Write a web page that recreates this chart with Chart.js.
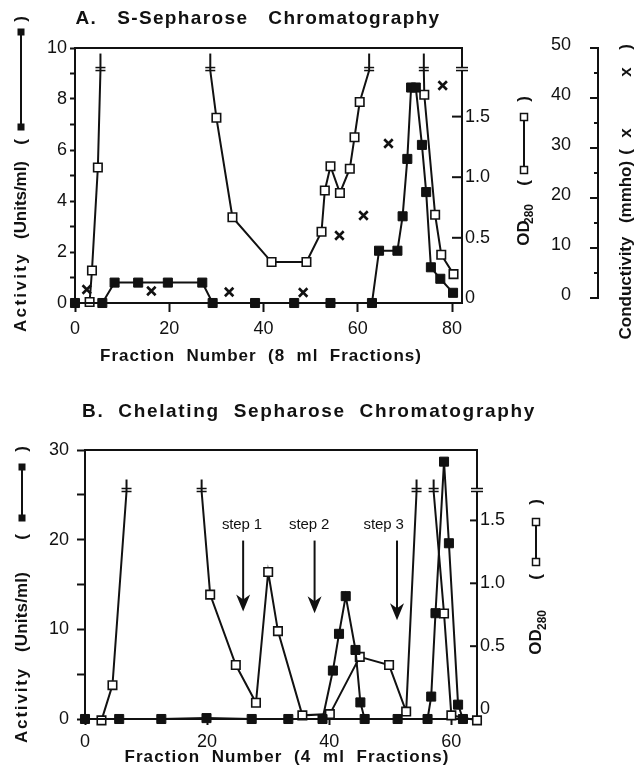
<!DOCTYPE html>
<html>
<head>
<meta charset="utf-8">
<title>S-Sepharose / Chelating Sepharose chromatography</title>
<script src="https://cdn.jsdelivr.net/npm/chart.js@4.4.1/dist/chart.umd.min.js"></script>
<style>
  body { margin: 0; background: #fff; }
  #wrap { position: relative; width: 640px; height: 767px; }
  canvas { position: absolute; left: 0; }
</style>
</head>
<body>
<div id="wrap">
  <canvas id="chartA" width="640" height="380" style="top:0"></canvas>
  <canvas id="chartB" width="640" height="387" style="top:380px"></canvas>
</div>
<script>
// ---------- Panel A: S-Sepharose (8 ml fractions) ----------
const aActFrac = [0, 5.8, 8.4, 13.4, 19.7, 27.0, 29.2, 38.2, 46.5, 54.2, 63.0, 64.5, 68.4, 69.5, 70.5, 71.3, 72.3, 73.6, 74.5, 75.5, 77.5, 80.2];
const aAct     = [0, 0, 0.8, 0.8, 0.8, 0.8, 0, 0, 0, 0, 0, 2.05, 2.05, 3.4, 5.65, 8.45, 8.45, 6.2, 4.35, 1.4, 0.95, 0.4];

// OD280, null = gap where the trace runs off scale
const aOdFrac = [3.1, 3.6, 4.85, 5.4, null, 28.7, 30.0, 33.4, 41.7, 49.1, 52.3, 53.0, 54.2, 56.2, 58.3, 59.3, 60.4, 62.4, null, 74.0, 74.1, 76.4, 77.7, 80.3];
const aOd     = [-0.03, 0.23, 1.08, 1.88, null, 1.88, 1.49, 0.67, 0.30, 0.30, 0.55, 0.89, 1.09, 0.87, 1.07, 1.33, 1.62, 1.88, null, 1.88, 1.68, 0.69, 0.36, 0.20];
const aOdBreak = 1.88;

const aCondFrac = [2.5, 16.2, 32.7, 48.4, 56.1, 61.2, 66.5, 78.0];
const aCond     = [1.7, 1.4, 1.2, 1.1, 12.5, 16.5, 30.9, 42.5];

const aFracTicks = [0, 20, 40, 60, 80];
const aActTicks  = [0, 1, 2, 3, 4, 5, 6, 7, 8, 9, 10];
const aOdTicks   = [0, 0.5, 1, 1.5];
const aCondTicks = [0, 10, 20, 30, 40, 50];

// ---------- Panel B: Chelating Sepharose (4 ml fractions) ----------
const bActFrac = [0, 5.6, 12.5, 19.9, 27.3, 33.3, 38.9, 40.6, 41.6, 42.7, 44.3, 45.1, 45.8, 51.2, 56.1, 56.7, 57.4, 58.8, 59.6, 61.1, 61.9];
const bAct     = [0, 0, 0, 0.1, 0, 0, 0, 5.4, 9.5, 13.7, 7.7, 1.85, 0, 0, 0, 2.5, 11.8, 28.7, 19.6, 1.6, 0];

const bOdFrac = [2.7, 4.5, 6.8, null, 19.1, 20.5, 24.7, 28.0, 30.0, 31.6, 35.6, 40.1, 45.0, 49.8, 52.6, 54.3, null, 57.1, 58.8, 60.0, 64.2];
const bOd     = [-0.09, 0.19, 1.73, null, 1.73, 0.91, 0.35, 0.05, 1.09, 0.62, -0.05, -0.04, 0.415, 0.35, -0.02, 1.73, null, 1.73, 0.76, -0.05, -0.09];
const bOdBreak = 1.73;

const bFracTicks = [0, 20, 40, 60];
const bActTicks  = [0, 5, 10, 15, 20, 25, 30];
const bOdTicks   = [0, 0.5, 1, 1.5];

// elution steps: label, label position, arrow position (fraction), arrow tip (units/ml)
const stepLabels = ['step 1', 'step 2', 'step 3'];
const stepTextAt = [25.7, 36.7, 48.9];
const stepArrowAt = [25.9, 37.6, 51.1];
const stepTip = [12.0, 11.8, 11.0];

// ---------- drawing helpers ----------
const INK = '#111';
const FAMILY = '"Liberation Sans", Arial, Helvetica, sans-serif';
Chart.defaults.font.family = FAMILY;
Chart.defaults.color = INK;

function pts(xs, ys) {
  return xs.map((x, i) => ({ x: x, y: ys[i] }));
}

function line(c, x1, y1, x2, y2) {
  c.beginPath();
  c.moveTo(x1, y1);
  c.lineTo(x2, y2);
  c.stroke();
}

// text centred at x,y, stretched (letter spacing) to span px, optional rotation
function spaced(c, text, x, y, font, span, rot) {
  c.save();
  c.translate(x, y);
  c.rotate(rot || 0);
  c.font = font;
  c.letterSpacing = '0px';
  if (span) {
    const w0 = c.measureText(text).width;
    c.letterSpacing = ((span - w0) / text.length).toFixed(2) + 'px';
  }
  c.textAlign = 'center';
  c.textBaseline = 'middle';
  c.fillStyle = INK;
  c.fillText(text, 0, 0);
  c.restore();
}

// vertical legend key: ( sq ---- sq ) along a rotated title
function key(c, x, yOpen, y1, y2, yClose, filled, font) {
  const up = -Math.PI / 2;
  spaced(c, '(', x, yOpen, font, 0, up);
  spaced(c, ')', x, yClose, font, 0, up);
  c.save();
  c.strokeStyle = INK;
  c.fillStyle = INK;
  c.lineWidth = 2;
  line(c, x, y1, x, y2);
  [y1, y2].forEach(y => {
    if (filled) {
      c.fillRect(x - 3.5, y - 3.5, 7, 7);
    } else {
      c.fillStyle = '#fff';
      c.fillRect(x - 3.5, y - 3.5, 7, 7);
      c.lineWidth = 1.5;
      c.strokeRect(x - 3.5, y - 3.5, 7, 7);
    }
  });
  c.restore();
}

// "OD" with subscript 280, reading upwards
function odTitle(c, x, yOD, xSub, ySub) {
  const up = -Math.PI / 2;
  spaced(c, 'OD', x, yOD, 'bold 17px ' + FAMILY, 0, up);
  spaced(c, '280', xSub, ySub, 'bold 12px ' + FAMILY, 0, up);
}

// off-scale marks on a trace: short stroke upward with "=" across it
function traceBreaks(chart, dsIndex, brk, rise) {
  const c = chart.ctx;
  const meta = chart.getDatasetMeta(dsIndex);
  const raw = chart.data.datasets[dsIndex].data;
  c.save();
  c.strokeStyle = INK;
  c.lineWidth = 2;
  meta.data.forEach((p, k) => {
    if (raw[k].y === null || raw[k].y < brk) return;
    line(c, p.x, p.y, p.x, p.y - rise);
    c.lineWidth = 1.5;
    line(c, p.x - 5, p.y, p.x + 5, p.y);
    line(c, p.x - 5, p.y - 3, p.x + 5, p.y - 3);
    c.lineWidth = 2;
  });
  c.restore();
}

function axisBreak(c, x, y) {
  c.save();
  c.fillStyle = '#fff';
  c.fillRect(x - 2, y - 2.5, 4, 2);
  c.strokeStyle = INK;
  c.lineWidth = 1.5;
  line(c, x - 6, y, x + 6, y);
  line(c, x - 6, y - 3, x + 6, y - 3);
  c.restore();
}

function inwardTicks(c, scale, right, values, len) {
  c.save();
  c.strokeStyle = INK;
  c.lineWidth = 2;
  values.forEach(v => {
    if (v <= 0) return;
    const y = scale.getPixelForValue(v);
    line(c, right - len, y, right, y);
  });
  c.restore();
}

function frameTop(c, a) {
  c.save();
  c.strokeStyle = INK;
  c.lineWidth = 2;
  line(c, a.left - 1, a.top, a.right + 1, a.top);
  c.restore();
}

const tickFont = { family: FAMILY, size: 18 };

// ---------- Panel A chart ----------
const decoA = {
  id: 'decoA',
  afterDraw(chart) {
    const c = chart.ctx, a = chart.chartArea;
    const od = chart.scales.od, cond = chart.scales.cond;
    frameTop(c, a);
    inwardTicks(c, od, a.right, aOdTicks, 10);
    axisBreak(c, a.right, od.getPixelForValue(aOdBreak));
    traceBreaks(chart, 1, aOdBreak, 17);

    // conductivity axis, standing apart on the right
    const ax = 598;
    c.save();
    c.strokeStyle = INK;
    c.lineWidth = 2;
    line(c, ax, cond.getPixelForValue(50) - 1, ax, cond.getPixelForValue(0) + 1);
    for (let v = 0; v <= 50; v += 5) {
      const y = cond.getPixelForValue(v);
      line(c, ax - (v % 10 ? 4 : 8), y, ax, y);
    }
    c.font = '18px ' + FAMILY;
    c.fillStyle = INK;
    c.textAlign = 'right';
    c.textBaseline = 'middle';
    aCondTicks.forEach(v => c.fillText(String(v), 571, cond.getPixelForValue(v) - 3));
    c.restore();

    const bold = 'bold 17px ' + FAMILY;
    const up = -Math.PI / 2;
    spaced(c, 'A.   S-Sepharose   Chromatography', 258, 19, 'bold 19px ' + FAMILY, 365);
    spaced(c, 'Fraction  Number  (8  ml  Fractions)', 261, 356, bold, 322);
    // left title
    spaced(c, 'Activity', 21, 292, bold, 80, up);
    spaced(c, '(Units/ml)', 21, 200, bold, 78, up);
    key(c, 21, 142, 127, 32, 19, true, bold);
    // OD title
    odTitle(c, 524, 233, 530, 214);
    key(c, 524, 183, 170, 117, 99, false, bold);
    // conductivity title
    spaced(c, 'Conductivity', 626, 288, bold, 103, up);
    spaced(c, '(mmho)', 626, 192, bold, 62, up);
    spaced(c, '(', 626, 152, bold, 0, up);
    spaced(c, 'x', 626, 133, bold, 0, up);
    spaced(c, 'x', 626, 72, bold, 0, up);
    spaced(c, ')', 626, 47, bold, 0, up);
  }
};

new Chart(document.getElementById('chartA'), {
  type: 'line',
  data: {
    datasets: [
      {
        label: 'Activity (Units/ml)',
        data: pts(aActFrac, aAct),
        yAxisID: 'y',
        borderColor: INK, borderWidth: 2, tension: 0, clip: false,
        pointStyle: 'rect', pointRadius: 6.4, pointBackgroundColor: INK, pointBorderColor: INK, pointBorderWidth: 1
      },
      {
        label: 'OD280',
        data: pts(aOdFrac, aOd),
        yAxisID: 'od',
        borderColor: INK, borderWidth: 2, tension: 0, clip: false, spanGaps: false,
        pointStyle: 'rect',
        pointRadius: ctx => (ctx.raw && ctx.raw.y >= aOdBreak) ? 0 : 6,
        pointBackgroundColor: '#fff', pointBorderColor: INK, pointBorderWidth: 1.6
      },
      {
        label: 'Conductivity (mmho)',
        data: pts(aCondFrac, aCond),
        yAxisID: 'cond',
        showLine: false, clip: false,
        pointStyle: 'crossRot', pointRadius: 6, borderColor: INK, pointBorderColor: INK, pointBorderWidth: 2.6
      }
    ]
  },
  options: {
    responsive: false,
    animation: false,
    events: [],
    layout: { padding: { top: 48, left: 0, right: 0, bottom: 0 } },
    plugins: { legend: { display: false }, tooltip: { enabled: false } },
    scales: {
      x: {
        type: 'linear', min: 0, max: 82.1,
        afterBuildTicks: s => { s.ticks = aFracTicks.map(v => ({ value: v })); },
        afterFit: s => { s.height = 77; },
        ticks: { font: tickFont, color: INK, padding: 6, maxRotation: 0, autoSkip: false },
        grid: { drawOnChartArea: false, tickLength: 9, tickWidth: 2, tickColor: INK },
        border: { color: INK, width: 2 }
      },
      y: {
        type: 'linear', position: 'left', min: 0, max: 10,
        afterBuildTicks: s => { s.ticks = aActTicks.map(v => ({ value: v })); },
        afterFit: s => { s.width = 75; },
        ticks: { font: tickFont, color: INK, padding: 3, callback: v => (v % 2 === 0 ? String(v) : '') },
        grid: { drawOnChartArea: false, tickLength: 5, tickWidth: 2, tickColor: INK },
        border: { color: INK, width: 2 }
      },
      od: {
        type: 'linear', position: 'right', min: -0.038, max: 2.066,
        afterBuildTicks: s => { s.ticks = aOdTicks.map(v => ({ value: v })); },
        afterFit: s => { s.width = 178; },
        ticks: { font: tickFont, color: INK, padding: 3, callback: v => (v === 0 ? '0' : v.toFixed(1)) },
        grid: { drawOnChartArea: false, drawTicks: false },
        border: { color: INK, width: 2 }
      },
      cond: {
        type: 'linear', position: 'right', display: false, min: -1, max: 50
      }
    }
  },
  plugins: [decoA]
});

// ---------- Panel B chart ----------
const decoB = {
  id: 'decoB',
  afterDraw(chart) {
    const c = chart.ctx, a = chart.chartArea;
    const xs = chart.scales.x, ys = chart.scales.y, od = chart.scales.od;
    frameTop(c, a);
    inwardTicks(c, od, a.right, bOdTicks, 7);
    axisBreak(c, a.right, od.getPixelForValue(bOdBreak));
    traceBreaks(chart, 1, bOdBreak, 12);

    // elution step arrows
    c.save();
    c.strokeStyle = INK;
    c.fillStyle = INK;
    c.lineWidth = 2;
    stepLabels.forEach((t, i) => {
      spaced(c, t, xs.getPixelForValue(stepTextAt[i]), ys.getPixelForValue(21.6), '15px ' + FAMILY, 40);
      const x = xs.getPixelForValue(stepArrowAt[i]);
      const yTop = ys.getPixelForValue(19.9);
      const yTip = ys.getPixelForValue(stepTip[i]);
      line(c, x, yTop, x, yTip - 10);
      c.beginPath();
      c.moveTo(x, yTip);
      c.lineTo(x - 7, yTip - 17);
      c.lineTo(x, yTip - 12);
      c.lineTo(x + 7, yTip - 17);
      c.closePath();
      c.fill();
    });
    c.restore();

    const bold = 'bold 17px ' + FAMILY;
    const up = -Math.PI / 2;
    spaced(c, 'B.  Chelating  Sepharose  Chromatography', 309, 32, 'bold 19px ' + FAMILY, 454);
    spaced(c, 'Fraction  Number  (4  ml  Fractions)', 287, 377, bold, 325);
    spaced(c, 'Activity', 22, 325, bold, 76, up);
    spaced(c, '(Units/ml)', 22, 232, bold, 80, up);
    key(c, 22, 157, 138, 87, 69, true, bold);
    odTitle(c, 536, 262, 543, 240);
    key(c, 536, 197, 182, 142, 122, false, bold);
  }
};

new Chart(document.getElementById('chartB'), {
  type: 'line',
  data: {
    datasets: [
      {
        label: 'Activity (Units/ml)',
        data: pts(bActFrac, bAct),
        yAxisID: 'y',
        borderColor: INK, borderWidth: 2, tension: 0, clip: false,
        pointStyle: 'rect', pointRadius: 6.4, pointBackgroundColor: INK, pointBorderColor: INK, pointBorderWidth: 1
      },
      {
        label: 'OD280',
        data: pts(bOdFrac, bOd),
        yAxisID: 'od',
        borderColor: INK, borderWidth: 2, tension: 0, clip: false, spanGaps: false,
        pointStyle: 'rect',
        pointRadius: ctx => (ctx.raw && ctx.raw.y >= bOdBreak) ? 0 : 6,
        pointBackgroundColor: '#fff', pointBorderColor: INK, pointBorderWidth: 1.6
      }
    ]
  },
  options: {
    responsive: false,
    animation: false,
    events: [],
    layout: { padding: { top: 70, left: 0, right: 0, bottom: 0 } },
    plugins: { legend: { display: false }, tooltip: { enabled: false } },
    scales: {
      x: {
        type: 'linear', min: 0, max: 64.2,
        afterBuildTicks: s => { s.ticks = bFracTicks.map(v => ({ value: v })); },
        afterFit: s => { s.height = 48; },
        ticks: { font: tickFont, color: INK, padding: 6, maxRotation: 0, autoSkip: false },
        grid: { drawOnChartArea: false, tickLength: 6, tickWidth: 2, tickColor: INK },
        border: { color: INK, width: 2 }
      },
      y: {
        type: 'linear', position: 'left', min: 0, max: 30,
        afterBuildTicks: s => { s.ticks = bActTicks.map(v => ({ value: v })); },
        afterFit: s => { s.width = 85; },
        ticks: { font: tickFont, color: INK, padding: 8, callback: v => (v % 10 === 0 ? String(v) : '') },
        grid: { drawOnChartArea: false, tickLength: 8, tickWidth: 2, tickColor: INK },
        border: { color: INK, width: 2 }
      },
      od: {
        type: 'linear', position: 'right', min: -0.079, max: 2.06,
        afterBuildTicks: s => { s.ticks = bOdTicks.map(v => ({ value: v })); },
        afterFit: s => { s.width = 163; },
        ticks: { font: tickFont, color: INK, padding: 3, callback: v => (v === 0 ? '0' : v.toFixed(1)) },
        grid: { drawOnChartArea: false, drawTicks: false },
        border: { color: INK, width: 2 }
      }
    }
  },
  plugins: [decoB]
});
</script>
</body>
</html>
